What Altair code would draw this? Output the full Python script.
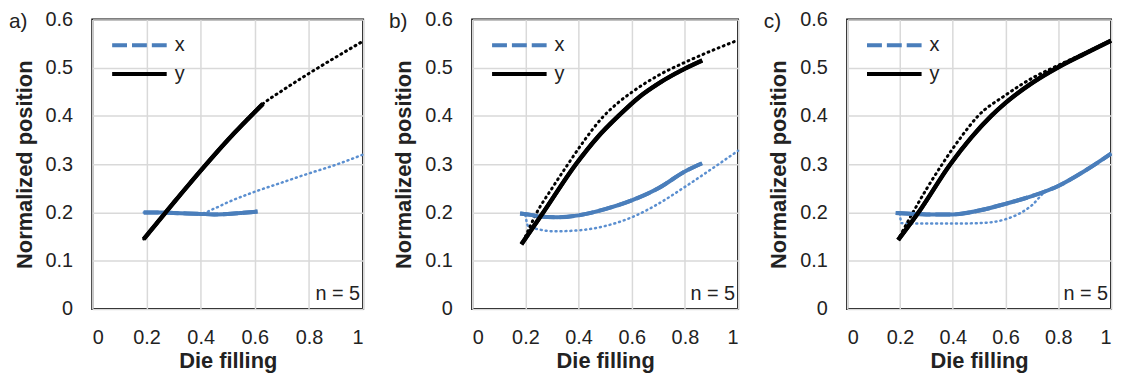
import altair as alt
import pandas as pd

FONT = "Liberation Sans"
BLUE = "#4a7ebb"
BLUE_DOT = "#5b8fd0"
TEXT = "#222222"

X_TICKS = [0, 0.2, 0.4, 0.6, 0.8, 1.0]
Y_TICKS = [0, 0.1, 0.2, 0.3, 0.4, 0.5, 0.6]
SERIES = ["x", "y"]
PANEL_LABELS = ["a)", "b)", "c)"]
N_TEXT = "n = 5"

# ---- panel a ----
A_X_MEAS_FILL = [0.19, 0.25, 0.30, 0.35, 0.40, 0.45, 0.50, 0.55, 0.61]
A_X_MEAS_POS = [0.200, 0.200, 0.199, 0.198, 0.197, 0.196, 0.197, 0.199, 0.202]
A_Y_MEAS_FILL = [0.19, 0.30, 0.41, 0.52, 0.63]
A_Y_MEAS_POS = [0.145, 0.220, 0.293, 0.362, 0.425]
A_X_MODEL_FILL = [0.19, 0.30, 0.40, 0.45, 0.50, 0.60, 0.70, 0.80, 0.90, 1.00]
A_X_MODEL_POS = [0.200, 0.199, 0.198, 0.208, 0.221, 0.243, 0.262, 0.281, 0.299, 0.320]
A_Y_MODEL_FILL = [0.19, 0.30, 0.41, 0.52, 0.63, 0.70, 0.80, 0.90, 1.00]
A_Y_MODEL_POS = [0.145, 0.220, 0.293, 0.362, 0.425, 0.452, 0.488, 0.522, 0.555]

# ---- panel b ----
B_X_MEAS_FILL = [0.18, 0.22, 0.25, 0.32, 0.40, 0.50, 0.60, 0.70, 0.80, 0.865]
B_X_MEAS_POS = [0.198, 0.195, 0.192, 0.190, 0.194, 0.207, 0.225, 0.250, 0.285, 0.302]
B_Y_MEAS_FILL = [0.185, 0.267, 0.39, 0.47, 0.55, 0.63, 0.70, 0.80, 0.865]
B_Y_MEAS_POS = [0.134, 0.200, 0.300, 0.355, 0.400, 0.440, 0.467, 0.498, 0.515]
B_X_MODEL_FILL = [0.20, 0.21, 0.25, 0.31, 0.40, 0.50, 0.60, 0.70, 0.80, 0.90, 1.00]
B_X_MODEL_POS = [0.195, 0.172, 0.165, 0.161, 0.163, 0.172, 0.190, 0.218, 0.253, 0.290, 0.328]
B_Y_MODEL_FILL = [0.20, 0.243, 0.30, 0.36, 0.42, 0.49, 0.55, 0.60, 0.70, 0.80, 0.90, 1.00]
B_Y_MODEL_POS = [0.150, 0.200, 0.250, 0.300, 0.348, 0.397, 0.428, 0.449, 0.484, 0.511, 0.535, 0.557]

# ---- panel c ----
C_X_MEAS_FILL = [0.184, 0.25, 0.30, 0.40, 0.50, 0.60, 0.70, 0.80, 0.90, 1.00]
C_X_MEAS_POS = [0.199, 0.197, 0.196, 0.196, 0.204, 0.218, 0.234, 0.255, 0.286, 0.322]
C_Y_MEAS_FILL = [0.193, 0.27, 0.391, 0.47, 0.546, 0.60, 0.70, 0.80, 0.90, 1.00]
C_Y_MEAS_POS = [0.143, 0.200, 0.300, 0.355, 0.400, 0.427, 0.468, 0.501, 0.529, 0.556]
C_X_MODEL_FILL = [0.20, 0.205, 0.25, 0.30, 0.40, 0.50, 0.55, 0.60, 0.65, 0.70, 0.75, 0.80, 0.90, 1.00]
C_X_MODEL_POS = [0.198, 0.178, 0.177, 0.177, 0.177, 0.178, 0.180, 0.186, 0.197, 0.215, 0.243, 0.255, 0.286, 0.322]
C_Y_MODEL_FILL = [0.20, 0.249, 0.30, 0.36, 0.43, 0.496, 0.60, 0.70, 0.80, 0.90, 1.00]
C_Y_MODEL_POS = [0.151, 0.200, 0.248, 0.300, 0.355, 0.400, 0.443, 0.478, 0.505, 0.530, 0.556]

PANEL_WIDTHS = [273, 268, 266]
PANEL_HEIGHT = 292


def frame(series, fills, poss):
    return pd.DataFrame({"series": series, "fill": fills, "pos": poss})


def make_panel(label, width, xm, ym, xmod, ymod):
    meas = pd.concat([frame("x", *xm), frame("y", *ym)], ignore_index=True)
    xenc = alt.X(
        "fill:Q",
        scale=alt.Scale(domain=[0, 1], nice=False),
        axis=alt.Axis(values=X_TICKS, format=".1~f", title="Die filling",
                      labelPadding=19, titlePadding=3),
    )
    yenc = alt.Y(
        "pos:Q",
        scale=alt.Scale(domain=[0, 0.6], nice=False),
        axis=alt.Axis(values=Y_TICKS, format=".1~f", title="Normalized position",
                      labelPadding=20, titlePadding=9),
    )
    leg = alt.Legend(
        title=None, orient="none", legendX=18, legendY=16, direction="vertical",
        symbolType="stroke", symbolSize=3025, symbolStrokeWidth=4,
        labelFontSize=20, labelFont=FONT, labelColor=TEXT, labelOffset=6,
        clipHeight=20, rowPadding=9, padding=0,
    )
    model_x = alt.Chart(frame("x", *xmod)).mark_line(
        color=BLUE_DOT, strokeWidth=2.5, strokeDash=[1, 4], strokeCap="round",
        interpolate="monotone",
    ).encode(x=xenc, y=yenc)
    model_y = alt.Chart(frame("y", *ymod)).mark_line(
        color="black", strokeWidth=3, strokeDash=[1, 4.5], strokeCap="round",
        interpolate="monotone",
    ).encode(x=xenc, y=yenc)
    meas_layer = alt.Chart(meas).mark_line(strokeWidth=4, interpolate="monotone").encode(
        x=xenc, y=yenc,
        color=alt.Color("series:N", scale=alt.Scale(domain=SERIES, range=[BLUE, "black"]), legend=leg),
        strokeDash=alt.StrokeDash("series:N", scale=alt.Scale(domain=SERIES, range=[[15, 5], [1, 0]]), legend=leg),
    )
    x_solid = alt.Chart(frame("x", *xm)).mark_line(
        color=BLUE, strokeWidth=4, interpolate="monotone"
    ).encode(x=xenc, y=yenc)
    y_solid = alt.Chart(frame("y", *ym)).mark_line(
        color="black", strokeWidth=4.5, interpolate="monotone"
    ).encode(x=xenc, y=yenc)
    ntext = alt.Chart(pd.DataFrame({"fill": [1.0], "pos": [0.032], "t": [N_TEXT]})).mark_text(
        align="right", baseline="middle", dx=-3, fontSize=20, font=FONT, color=TEXT
    ).encode(x=xenc, y=yenc, text="t:N")
    ptext = alt.Chart(pd.DataFrame({"t": [label]})).mark_text(
        align="left", baseline="middle", fontSize=21, font=FONT, color=TEXT
    ).encode(x=alt.value(-84), y=alt.value(3), text="t:N")
    return alt.layer(model_x, model_y, meas_layer, x_solid, y_solid, ntext, ptext).properties(
        width=width, height=PANEL_HEIGHT
    )


pa = make_panel(PANEL_LABELS[0], PANEL_WIDTHS[0],
                (A_X_MEAS_FILL, A_X_MEAS_POS), (A_Y_MEAS_FILL, A_Y_MEAS_POS),
                (A_X_MODEL_FILL, A_X_MODEL_POS), (A_Y_MODEL_FILL, A_Y_MODEL_POS))
pb = make_panel(PANEL_LABELS[1], PANEL_WIDTHS[1],
                (B_X_MEAS_FILL, B_X_MEAS_POS), (B_Y_MEAS_FILL, B_Y_MEAS_POS),
                (B_X_MODEL_FILL, B_X_MODEL_POS), (B_Y_MODEL_FILL, B_Y_MODEL_POS))
pc = make_panel(PANEL_LABELS[2], PANEL_WIDTHS[2],
                (C_X_MEAS_FILL, C_X_MEAS_POS), (C_Y_MEAS_FILL, C_Y_MEAS_POS),
                (C_X_MODEL_FILL, C_X_MODEL_POS), (C_Y_MODEL_FILL, C_Y_MODEL_POS))

chart = (
    alt.hconcat(pa, pb, pc, spacing=18)
    .resolve_scale(color="independent", strokeDash="independent")
    .properties(padding={"left": 0, "top": -1, "right": -5, "bottom": 0})
    .configure_view(stroke="black", strokeWidth=2)
    .configure_axis(
        grid=True, gridColor="#d9d9d9", gridWidth=1.5, domain=False, ticks=False,
        labelFont=FONT, labelFontSize=20, labelColor=TEXT,
        titleFont=FONT, titleFontSize=22, titleFontWeight="bold", titleColor=TEXT,
    )
)

chart.save("out.html", embed_options={"renderer": "svg", "actions": False})
